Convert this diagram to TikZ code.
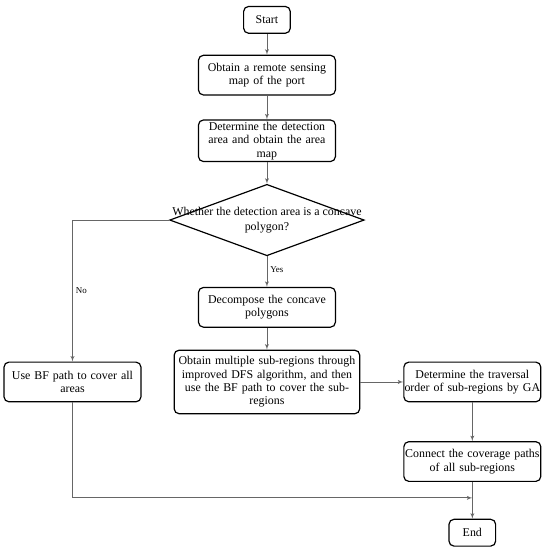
\documentclass[tikz,border=0pt]{standalone}
\usepackage{fontspec}
\setmainfont{Liberation Serif}
\usetikzlibrary{shapes,arrows,positioning}

\begin{document}
\begin{tikzpicture}[auto,
      decision/.style={diamond, draw=black, line width=1.2pt, fill=white,
        minimum width=196pt, minimum height=72pt, inner sep=0pt, aspect=2.7,
        align=center, font=\fontsize{12}{15}\selectfont},
      block_center/.style ={rectangle, rounded corners=5pt, draw=black,
        line width=1.2pt, fill=white, text width=138pt, align=center,
        minimum height=40pt, inner xsep=0pt, inner ysep=2pt,
        font=\fontsize{12}{13.5}\selectfont},
      block_wide/.style ={block_center, text width=187pt, minimum height=64pt},
      block_term/.style ={rectangle, rounded corners=5pt, draw=black,
        line width=1.2pt, fill=white, minimum width=47pt, minimum height=27pt,
        font=\fontsize{12}{13.5}\selectfont},
      tag/.style ={draw=none, text=black, inner sep=3pt,
        font=\fontsize{9}{10}\selectfont},
      line/.style ={draw, gray!80!black, line width=0.9pt, -latex', shorten >=0pt}]
    %
    % 1. outlining the flowchart with a matrix
    \matrix [column sep=28pt,row sep=21pt] {
      % row 1
      & \node [block_term] (start) {Start};
      &[11pt] \\
      % row 2
      & \node [block_center] (remote) {Obtain a remote sensing\\map of the port};
      & \\[3pt]
      % row 3
      & \node [block_center] (determine) {Determine the detection\\area and obtain the area\\map};
      & \\[1pt]
      % row 4
      & \node [decision] (decide) {\makebox[0pt]{Whether the detection area is a concave}\\polygon?};
      & \\[10pt]
      % row 5
      & \node [block_center] (decompose) {Decompose the concave\\polygons};
      & \\[1pt]
      % row 6
      \node [block_center] (bf) {Use BF path to cover all\\areas};
      & \node [block_wide] (dfs) {Obtain multiple sub-regions through\\improved DFS algorithm, and then\\use the BF path to cover the sub-\\regions};
      & \node [block_center] (ga) {Determine the traversal\\order of sub-regions by GA}; \\[6pt]
      % row 7
      &
      & \node [block_center] (connect) {Connect the coverage paths\\of all sub-regions}; \\[16pt]
      % row 8
      &
      & \node [block_term] (end) {End}; \\
    };% end matrix
    \coordinate [below=16pt of connect] (merge);
    %
    % 2. connecting nodes with paths
    \begin{scope}[every path/.style=line]
      \path (start) -- (remote);
      \path (remote) -- (determine);
      \path (determine) -- (decide);
      % yes / no branches
      \path (decide) -- node [tag, pos=0.45] {Yes} (decompose);
      \path (decide) -| node [tag, pos=0.75] {No} (bf);
      %
      \path (decompose) -- (dfs);
      \path (dfs) -- (ga);
      \path (ga) -- (connect);
      \path (connect) -- (end);
      \path (bf) |- (merge);
    \end{scope}
    \useasboundingbox ([shift={(-269pt,20pt)}]start.center) rectangle ++(550pt,-547pt);
  \end{tikzpicture}
\end{document}
